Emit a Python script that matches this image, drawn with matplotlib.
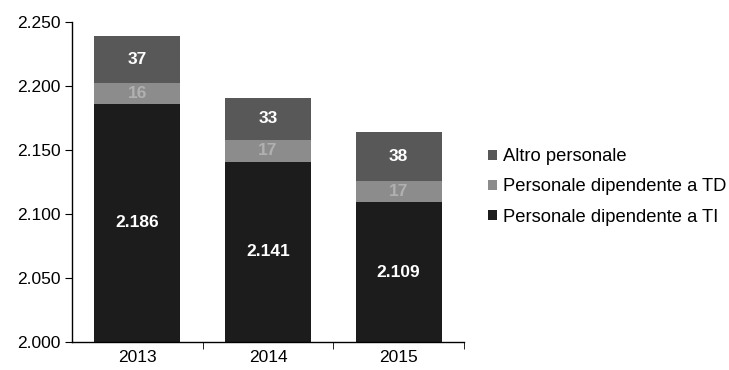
import matplotlib
matplotlib.use("Agg")
import matplotlib.pyplot as plt
import numpy as np
from matplotlib.ticker import FuncFormatter, FixedLocator

years = ["2013", "2014", "2015"]
ti = [2186, 2141, 2109]
td = [16, 17, 17]
altro = [37, 33, 38]
series_names = ["Personale dipendente a TI", "Personale dipendente a TD", "Altro personale"]
yticks = [2000, 2050, 2100, 2150, 2200, 2250]


def it_fmt(v, pos=None):
    return f"{int(v):,}".replace(",", ".")


plt.rcParams["font.family"] = ["Liberation Sans", "DejaVu Sans"]
fig = plt.figure(figsize=(7.29, 3.70), dpi=100)
ax = fig.add_axes([72 / 729, 28 / 370, 392 / 729, 320 / 370])

x = np.arange(len(years))
w = 0.66
c_ti, c_td, c_al = "#1c1c1c", "#8c8c8c", "#585858"
b1 = ax.bar(x, ti, w, color=c_ti, label=series_names[0])
b2 = ax.bar(x, td, w, bottom=ti, color=c_td, label=series_names[1])
bot3 = [a + b for a, b in zip(ti, td)]
b3 = ax.bar(x, altro, w, bottom=bot3, color=c_al, label=series_names[2])

for i in range(len(years)):
    ax.text(x[i], 2000 + (ti[i] - 2000) / 2, it_fmt(ti[i]), ha="center", va="center",
            color="white", fontsize=12.5, fontweight="bold")
    ax.text(x[i], ti[i] + td[i] / 2, str(td[i]), ha="center", va="center",
            color="#b0b0b0", fontsize=12.5, fontweight="bold")
    ax.text(x[i], bot3[i] + altro[i] / 2, str(altro[i]), ha="center", va="center",
            color="white", fontsize=12.5, fontweight="bold")

ax.set_ylim(2000, 2250)
ax.set_xlim(-0.5, 2.5)
ax.yaxis.set_major_locator(FixedLocator(yticks))
ax.yaxis.set_major_formatter(FuncFormatter(it_fmt))
ax.set_xticks(x)
ax.set_xticklabels(years)
ax.set_xticks([0.5, 1.5, 2.5], minor=True)
ax.tick_params(axis="x", which="major", length=0, labelsize=12.5, pad=6)
ax.tick_params(axis="x", which="minor", length=5, direction="out")
ax.tick_params(axis="y", length=5, labelsize=12.5, direction="out", pad=3)
for s in ["top", "right"]:
    ax.spines[s].set_visible(False)
for s in ["left", "bottom"]:
    ax.spines[s].set_color("black")
    ax.spines[s].set_linewidth(1.0)

handles = [b3, b2, b1]
labels = [series_names[2], series_names[1], series_names[0]]
fig.legend(handles, labels, loc="center left", bbox_to_anchor=(488 / 729, 1 - 187 / 370),
           frameon=False, fontsize=13.2, handlelength=0.5, handleheight=0.5,
           handletextpad=0.3, labelspacing=0.72, borderpad=0, borderaxespad=0)

fig.savefig("out.png", dpi=100)
